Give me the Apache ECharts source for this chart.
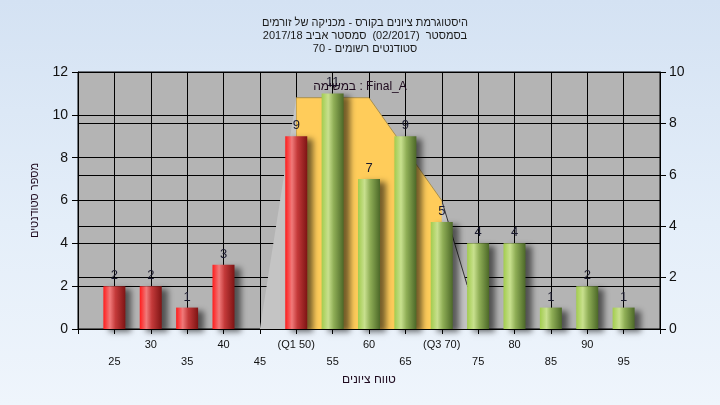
<!DOCTYPE html>
<html>
<head>
<meta charset="utf-8">
<script src="https://cdn.jsdelivr.net/npm/echarts@6/dist/echarts.min.js"></script>
<style>
html,body{margin:0;padding:0;}
#c{width:720px;height:405px;background:linear-gradient(to bottom,#d4e2f3 0%,#e4eef9 55%,#eff5fc 100%);}
</style>
</head>
<body>
<div id="c"></div>
<script>
// ---- data ----
const titleLines = [
  'היסטוגרמת ציונים בקורס - מכניקה של זורמים',
  'בסמסטר  (02/2017)  סמסטר אביב 2017/18',
  'סטודנטים רשומים - 70'
];
const seriesName = 'במשימה : Final_A';
const yAxisName = 'מספר סטודנטים';
const xAxisName = 'טווח ציונים';
const scores = [25, 30, 35, 40, 45, 50, 55, 60, 65, 70, 75, 80, 85, 90, 95];
const counts = [2, 2, 1, 3, 0, 9, 11, 7, 9, 5, 4, 4, 1, 2, 1];
const passMark = 55;
const iqrX = [50, 55, 60, 65, 70];
const iqrY = [9, 9, 9, 7, 5];
const leftFaceX = [45, 50];
const leftFaceY = [0, 9];
const rightFaceX = [70, 73.5];
const rightFaceY = [5, 1.7];
const topRowValues = [30, 40, 50, 60, 70, 80, 90];
const topRowLabels = ['30', '40', '(Q1 50)', '60', '(Q3 70)', '80', '90'];
const bottomRowValues = [25, 35, 45, 55, 65, 75, 85, 95];
const bottomRowLabels = ['25', '35', '45', '55', '65', '75', '85', '95'];

// ---- styles ----
const FONT = 'Liberation Sans, Arial, sans-serif';
const redGrad = {type:'linear',x:0,y:0,x2:1,y2:0,colorStops:[
  {offset:0,color:'#ff1c1c'},{offset:0.3,color:'#f07a7a'},{offset:0.55,color:'#c43a3a'},{offset:1,color:'#7e1414'}]};
const greenGrad = {type:'linear',x:0,y:0,x2:1,y2:0,colorStops:[
  {offset:0,color:'#a2cc4e'},{offset:0.3,color:'#c8e08e'},{offset:0.55,color:'#8fae56'},{offset:1,color:'#4c6828'}]};

const barData = scores.map((s, i) => ({
  value: [s, counts[i]],
  itemStyle: {color: s < passMark ? redGrad : greenGrad}
}));
const pairs = (xs, ys) => xs.map((x, i) => [x, ys[i]]);

const chart = echarts.init(document.getElementById('c'), null, {renderer: 'canvas'});
const axisLabelStyle = {color: '#111', fontFamily: FONT};
chart.setOption({
  backgroundColor: 'transparent',
  animation: false,
  title: {
    text: titleLines.join('\n'),
    left: 360, top: 11, textAlign: 'center',
    textStyle: {fontSize: 11, fontWeight: 'normal', color: '#1a1a1a', fontFamily: FONT, lineHeight: 13}
  },
  graphic: [{
    type: 'text', left: 'center', top: 81, z: 100,
    style: {text: seriesName, fontSize: 12, fill: '#1e0a1e', fontFamily: FONT, x: 0}
  }],
  grid: {left: 78, right: 60, top: 72, bottom: 76, show: true, backgroundColor: '#b4b4b4', borderColor: '#000', borderWidth: 1},
  xAxis: [{
    type: 'value', min: 20, max: 100, interval: 5,
    name: xAxisName, nameLocation: 'middle', nameGap: 45,
    nameTextStyle: {fontSize: 12, color: '#1e0a1e', fontFamily: FONT},
    axisLine: {show: true, lineStyle: {color: '#000', width: 1}},
    axisTick: {show: true, length: 5, lineStyle: {color: '#000'}},
    splitLine: {show: true, lineStyle: {color: '#000', width: 1}},
    axisLabel: Object.assign({fontSize: 11, margin: 10, showMinLabel: true, showMaxLabel: true,
      formatter: v => { const k = topRowValues.indexOf(Math.round(v)); return k >= 0 ? topRowLabels[k] : ''; }}, axisLabelStyle)
  }, {
    type: 'value', min: 20, max: 100, interval: 5, position: 'bottom',
    axisLine: {show: false}, axisTick: {show: false}, splitLine: {show: false},
    axisLabel: Object.assign({fontSize: 11, margin: 27,
      formatter: v => { const k = bottomRowValues.indexOf(Math.round(v)); return k >= 0 ? bottomRowLabels[k] : ''; }}, axisLabelStyle)
  }],
  yAxis: [{
    type: 'value', min: 0, max: 12, interval: 2, position: 'left',
    name: yAxisName, nameLocation: 'middle', nameGap: 38, nameRotate: 90,
    nameTextStyle: {fontSize: 11, color: '#1e0a1e', fontFamily: FONT},
    axisLine: {show: true, lineStyle: {color: '#000', width: 1}},
    axisTick: {show: true, length: 6, lineStyle: {color: '#000'}},
    splitLine: {show: true, lineStyle: {color: '#000', width: 1}},
    axisLabel: Object.assign({fontSize: 14, margin: 10}, axisLabelStyle)
  }, {
    type: 'value', min: 0, max: 10, interval: 2, position: 'right',
    axisLine: {show: true, lineStyle: {color: '#000', width: 1}},
    axisTick: {show: true, length: 6, lineStyle: {color: '#000'}},
    splitLine: {show: true, lineStyle: {color: '#000', width: 1}},
    axisLabel: Object.assign({fontSize: 14, margin: 9}, axisLabelStyle)
  }],
  series: [{
    type: 'line', yAxisIndex: 1, data: pairs(leftFaceX, leftFaceY),
    symbol: 'none', lineStyle: {width: 0, color: '#c4c4c4'},
    areaStyle: {color: '#c4c4c4', opacity: 1}, z: 1, silent: true
  }, {
    type: 'line', yAxisIndex: 1, data: pairs(rightFaceX, rightFaceY),
    symbol: 'none', lineStyle: {width: 1, color: '#333'},
    areaStyle: {color: '#c4c4c4', opacity: 1}, z: 1, silent: true
  }, {
    type: 'line', yAxisIndex: 1, data: pairs(iqrX, iqrY),
    symbol: 'none', lineStyle: {width: 1, color: '#a89050'},
    areaStyle: {color: '#ffcc5a', opacity: 1}, z: 2, silent: true
  }, {
    type: 'bar', data: barData, barWidth: 22, z: 3,
    itemStyle: {shadowColor: 'rgba(0,0,0,0.55)', shadowBlur: 6, shadowOffsetX: 6, shadowOffsetY: 3},
    label: {show: true, position: 'top', distance: 4, fontSize: 13, color: '#1a1a2e', fontFamily: FONT,
      formatter: p => p.value[1] > 0 ? String(p.value[1]) : ''}
  }]
});
</script>
</body>
</html>
